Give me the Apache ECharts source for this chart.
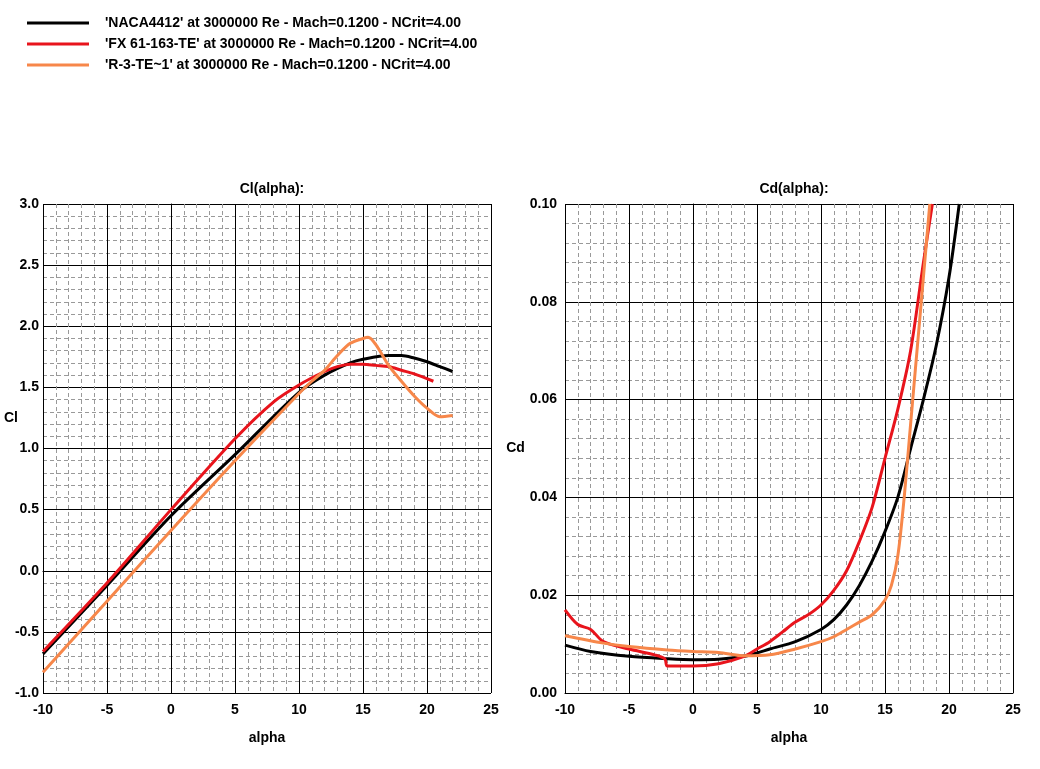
<!DOCTYPE html><html><head><meta charset="utf-8"><script src="https://cdn.jsdelivr.net/npm/echarts@6/dist/echarts.min.js"></script>
<style>body{margin:0;background:#fff}#c{width:1040px;height:769px}</style></head><body><div id="c"></div><script>
const names=["'NACA4412' at 3000000 Re - Mach=0.1200 - NCrit=4.00","'FX 61-163-TE' at 3000000 Re - Mach=0.1200 - NCrit=4.00","'R-3-TE~1' at 3000000 Re - Mach=0.1200 - NCrit=4.00"];
const colors=['#000000','#e8141c','#f7874a'];
const clNaca=[[-10,-0.68],[-5,-0.12],[0,0.45],[5,0.95],[10,1.46],[12,1.6],[14,1.7],[15,1.73],[17,1.76],[18,1.76],[19,1.74],[20,1.71],[21,1.67],[22,1.63]];
const clFx=[[-10,-0.66],[-5,-0.1],[0,0.5],[5,1.08],[8,1.38],[10,1.52],[12,1.63],[13,1.67],[14,1.69],[15,1.69],[16,1.68],[17,1.67],[18,1.64],[19,1.61],[20.5,1.55]];
const clR3=[[-10,-0.83],[-5,-0.25],[0,0.33],[5,0.9],[10,1.45],[11,1.55],[12,1.64],[13,1.76],[14,1.86],[15,1.9],[15.4,1.91],[16,1.85],[17,1.68],[18,1.55],[19,1.43],[20,1.33],[21,1.26],[22,1.27]];
const cdNaca=[[-10,0.0098],[-8,0.0085],[-5,0.0075],[-2,0.007],[0,0.0068],[2,0.0069],[4,0.0075],[5,0.0082],[6,0.009],[8,0.0105],[10,0.013],[11,0.015],[12,0.018],[13,0.022],[14,0.027],[15,0.033],[16,0.04],[17,0.05],[18,0.06],[19,0.071],[20,0.085],[20.8,0.1]];
const cdFx=[[-10,0.017],[-9,0.014],[-8,0.013],[-7,0.0105],[-5,0.009],[-3,0.0078],[-2.2,0.007],[-2,0.0055],[0,0.0055],[2,0.006],[4,0.0075],[5,0.009],[6,0.0105],[7,0.0125],[8,0.0145],[9,0.016],[10,0.018],[11,0.021],[12,0.025],[13,0.031],[14,0.038],[15,0.048],[16,0.058],[17,0.07],[18,0.088],[18.7,0.1]];
const cdR3=[[-10,0.0117],[-7,0.0102],[-5,0.0095],[-2,0.0088],[0,0.0085],[2,0.0083],[4,0.0076],[6,0.0078],[8,0.009],[10,0.0105],[11,0.0115],[12,0.013],[13,0.0145],[14,0.016],[15,0.019],[15.5,0.022],[16,0.028],[16.5,0.04],[17,0.055],[17.5,0.07],[18,0.085],[18.5,0.1]];
const xTicks=[-10,25,5];
const F='Liberation Sans';
const lbl={color:'#000',fontFamily:F,fontWeight:'bold',fontSize:14};
function xa(i){return {type:'value',gridIndex:i,min:xTicks[0],max:xTicks[1],interval:xTicks[2],name:'alpha',nameLocation:'middle',nameGap:38,nameTextStyle:lbl,
 axisLabel:Object.assign({margin:10},lbl),axisLine:{show:true,lineStyle:{color:'#000'}},axisTick:{show:false},
 splitLine:{lineStyle:{color:'#000',width:1}},minorTick:{show:false,splitNumber:5},minorSplitLine:{show:true,lineStyle:{color:'#999',type:[4,3]}}};}
function ya(i,min,max,iv,nm,fmt){return {type:'value',gridIndex:i,min:min,max:max,interval:iv,name:nm,nameLocation:'middle',nameRotate:0,nameGap:32,nameTextStyle:lbl,
 axisLabel:Object.assign({formatter:fmt,margin:i?8:4},lbl),axisLine:{show:true,lineStyle:{color:'#000'}},axisTick:{show:false},
 splitLine:{lineStyle:{color:'#000',width:1}},minorTick:{show:false,splitNumber:5},minorSplitLine:{show:true,lineStyle:{color:'#999',type:[4,3]}}};}
function s(d,c,xi,n){return {type:'line',name:n,data:d,xAxisIndex:xi,yAxisIndex:xi,showSymbol:false,smooth:0.3,lineStyle:{color:c,width:3},itemStyle:{color:c},clip:true};}
const ch=echarts.init(document.getElementById('c'));
ch.setOption({animation:false,color:colors,
 legend:{orient:'vertical',left:22,top:11,itemWidth:62,itemHeight:3,itemGap:7,icon:'rect',textStyle:Object.assign({},lbl,{padding:[0,0,0,11]}),data:names},
 title:[{text:'Cl(alpha):',left:267,top:177,textAlign:'center',textStyle:lbl},{text:'Cd(alpha):',left:789,top:177,textAlign:'center',textStyle:lbl}],
 graphic:[{type:'text',left:4,top:411,style:Object.assign({text:'Cl',fill:'#000'},{font:'bold 14px "Liberation Sans"'})}],
 grid:[{left:43,right:549,top:204,bottom:76,outerBoundsMode:'none',containLabel:false},{left:565,right:27,top:204,bottom:76,outerBoundsMode:'none',containLabel:false}],
 xAxis:[xa(0),xa(1)],
 yAxis:[ya(0,-1,3,0.5,'',v=>v.toFixed(1)),ya(1,0,0.1,0.02,'Cd',v=>v.toFixed(2))],
 series:[s(clNaca,colors[0],0,names[0]),s(clFx,colors[1],0,names[1]),s(clR3,colors[2],0,names[2]),
  s(cdNaca,colors[0],1,names[0]),s(cdFx,colors[1],1,names[1]),s(cdR3,colors[2],1,names[2])]
});
</script></body></html>
